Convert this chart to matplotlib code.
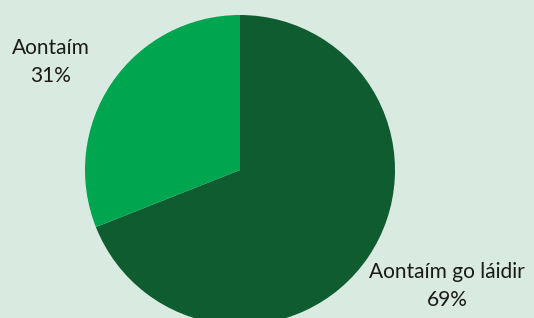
import matplotlib
matplotlib.use("Agg")
import matplotlib.pyplot as plt

# data
categories = ["Aontaím go láidir", "Aontaím"]
shares = [69, 31]
colours = ["#0F5C30", "#00A54F"]

bg = "#D9EBE1"

fig = plt.figure(figsize=(5.34, 3.18), dpi=100, facecolor=bg)
ax = fig.add_axes([0, 0, 1, 1])
ax.set_facecolor(bg)

wedges, texts = ax.pie(shares, colors=colours, startangle=90, counterclock=False,
                       center=(240, 148), radius=155, frame=True,
                       labels=[f"{c}\n{v}%" for c, v in zip(categories, shares)],
                       wedgeprops=dict(linewidth=0),
                       textprops=dict(fontsize=15, family="Lato", color="#1a1a1a",
                                      ha="center", va="center", linespacing=1.5))

# label positions (pixel coords, y up)
texts[0].set_position((447, 32))
texts[1].set_position((51, 256))
for t in texts:
    t.set_ha("center")
    t.set_va("center")

ax.set_xlim(0, 534)
ax.set_ylim(0, 318)
ax.set_aspect("equal")
ax.axis("off")

fig.savefig("out.png", dpi=100, facecolor=bg)
